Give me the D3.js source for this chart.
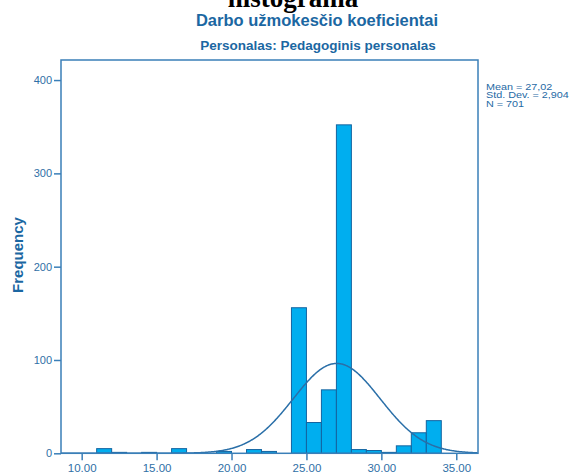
<!DOCTYPE html>
<html lang="en">
<head>
    <meta charset="utf-8">
    <title>Histograma</title>
    <script type="text/javascript" src="https://d3js.org/d3.v7.min.js"></script>
    <style type="text/css">
        body { margin: 0; background: #fff; }
        svg text { font-family: "Liberation Sans", Arial, sans-serif; }
    </style>
</head>
<body>
<div class="chart"></div>

<script type="text/javascript">

    // bin lower edges (width 1) and their counts
    var binStarts = [11, 12, 14, 16, 19, 21, 22, 24, 25, 26, 27, 28, 29, 30, 31, 32, 33];
    var binCounts = [5, 1, 1, 5, 2, 4, 2, 156, 33, 68, 352, 4, 3, 1, 8, 22, 35];
    var binWidth = 1;

    var xTicks = [10, 15, 20, 25, 30, 35];
    var yTicks = [0, 100, 200, 300, 400];

    var mean = 27.02, stdDev = 2.904, n = 701;
    var statLines = ["Mean = 27,02", "Std. Dev. = 2,904", "N = 701"];

    var W = 572, H = 472;
    var plotLeft = 61, plotRight = 478, plotTop = 60, plotBottom = 453.3;

    var textBlue = "#1b67a2";
    var axisBlue = "#3a7fb8";

    var svg = d3.select(".chart").append("svg")
        .attr("width", W).attr("height", H);

    var x = d3.scaleLinear().domain([8.62, 36.45]).range([plotLeft, plotRight]);
    var y = d3.scaleLinear().domain([0, 421.5]).range([plotBottom, plotTop]);

    // clipped page heading
    svg.append("text")
        .attr("x", 293).attr("y", 7)
        .attr("text-anchor", "middle")
        .style("font-family", "'Liberation Serif', 'Times New Roman', serif")
        .style("font-weight", "bold")
        .style("font-size", "27px")
        .attr("fill", "#000")
        .text("histograma");

    svg.append("text")
        .attr("x", 317).attr("y", 26)
        .attr("text-anchor", "middle")
        .style("font-weight", "bold")
        .style("font-size", "16.5px")
        .attr("fill", textBlue)
        .text("Darbo užmokesčio koeficientai");

    svg.append("text")
        .attr("x", 318).attr("y", 50)
        .attr("text-anchor", "middle")
        .style("font-weight", "bold")
        .style("font-size", "13.5px")
        .attr("fill", textBlue)
        .text("Personalas: Pedagoginis personalas");

    // bars
    var bins = binStarts.map(function (s, i) { return {x0: s, x1: s + binWidth, count: binCounts[i]}; });

    svg.append("g").selectAll("rect")
        .data(bins)
        .enter().append("rect")
        .attr("x", function (d) { return x(d.x0); })
        .attr("width", function (d) { return x(d.x1) - x(d.x0); })
        .attr("y", function (d) { return y(d.count); })
        .attr("height", function (d) { return y(0) - y(d.count); })
        .attr("fill", "#00aeef")
        .attr("stroke", "#1464a0")
        .attr("stroke-width", 1);

    // normal curve from the stats
    var xs = d3.range(x.domain()[0], x.domain()[1] + 0.001, 0.05);
    var curve = d3.line()
        .x(function (v) { return x(v); })
        .y(function (v) {
            var z = (v - mean) / stdDev;
            return y(n * binWidth * Math.exp(-0.5 * z * z) / (stdDev * Math.sqrt(2 * Math.PI)));
        });

    svg.append("path")
        .datum(xs)
        .attr("d", curve)
        .attr("fill", "none")
        .attr("stroke", "#2a6fa8")
        .attr("stroke-width", 1.5);

    // frame
    svg.append("rect")
        .attr("x", plotLeft).attr("y", plotTop)
        .attr("width", plotRight - plotLeft).attr("height", plotBottom - plotTop)
        .attr("fill", "none")
        .attr("stroke", axisBlue)
        .attr("stroke-width", 1.5);

    // axes
    var yAxis = svg.append("g")
        .attr("transform", "translate(" + plotLeft + ",0)")
        .call(d3.axisLeft(y).tickValues(yTicks).tickSize(7).tickPadding(2).tickFormat(d3.format("d")));
    var xAxis = svg.append("g")
        .attr("transform", "translate(0," + plotBottom + ")")
        .call(d3.axisBottom(x).tickValues(xTicks).tickSize(7).tickPadding(4).tickFormat(d3.format(".2f")));

    [yAxis, xAxis].forEach(function (a) {
        a.select(".domain").remove();
        a.selectAll("line").attr("stroke", axisBlue).attr("stroke-width", 1.5);
        a.selectAll("text")
            .attr("fill", "#2f6fa6")
            .style("font-family", "'Liberation Sans', Arial, sans-serif")
            .style("font-size", "11.5px");
    });
    yAxis.selectAll("text").style("font-size", "11px");

    svg.append("text")
        .attr("transform", "translate(23,255) rotate(-90)")
        .attr("text-anchor", "middle")
        .style("font-weight", "bold")
        .style("font-size", "15px")
        .attr("fill", textBlue)
        .text("Frequency");

    // stats legend (text is a little squashed vertically in the original)
    svg.append("g")
        .attr("transform", "translate(486,90) scale(1,0.88)")
        .selectAll("text")
        .data(statLines)
        .enter().append("text")
        .attr("x", 0)
        .attr("y", function (d, i) { return i * 9.4; })
        .style("font-size", "10.8px")
        .attr("fill", "#1f6aa5")
        .text(function (d) { return d; });

</script>
</body>
</html>
